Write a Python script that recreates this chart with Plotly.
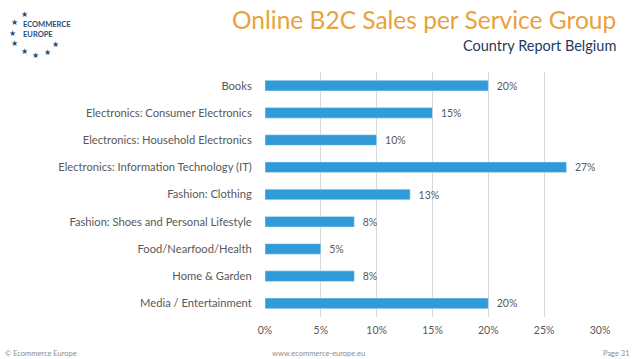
import plotly.graph_objects as go

categories = [
    "Books",
    "Electronics: Consumer Electronics",
    "Electronics: Household Electronics",
    "Electronics: Information Technology (IT)",
    "Fashion: Clothing",
    "Fashion: Shoes and Personal Lifestyle",
    "Food/Nearfood/Health",
    "Home & Garden",
    "Media / Entertainment",
]
shares = [0.20, 0.15, 0.10, 0.27, 0.13, 0.08, 0.05, 0.08, 0.20]
x_ticks = [0, 0.05, 0.10, 0.15, 0.20, 0.25, 0.30]

FONT = "Lato, 'Open Sans', sans-serif"
GRAY = "#595959"
W, H = 638, 359
ML, MR, MT, MB = 265, 38, 72, 42
PW, PH = W - ML - MR, H - MT - MB


def px(x):
    return (x - ML) / PW


def py(y):
    return (H - MB - y) / PH


fig = go.Figure(go.Bar(
    x=shares, y=categories, orientation="h",
    marker=dict(color="#2F9BD8"),
    texttemplate="\u00a0\u00a0%{x:.0%}", textposition="outside", constraintext="none",
    textfont=dict(family=FONT, size=10.5, color=GRAY),
    cliponaxis=False, width=0.39,
))

fig.update_layout(
    width=W, height=H,
    paper_bgcolor="white", plot_bgcolor="white",
    margin=dict(l=ML, r=MR, t=MT, b=MB),
    showlegend=False,
    font=dict(family=FONT, color=GRAY),
    xaxis=dict(range=[0, 0.30], tickvals=x_ticks, tickformat=".0%",
               showgrid=True, gridcolor="#D9D9D9", gridwidth=1,
               zeroline=False, showline=False, automargin=False,
               ticklabelstandoff=5,
               tickfont=dict(family=FONT, size=10.5, color=GRAY), ticks="", ticklen=0),
    yaxis=dict(autorange="reversed", showgrid=False, zeroline=False, automargin=False,
               ticks="outside", ticklen=10, tickcolor="rgba(0,0,0,0)",
               tickfont=dict(family=FONT, size=11.2, color=GRAY)),
)

annotations = []
# Titles
annotations.append(dict(text="Online B2C Sales per Service Group", xref="paper", yref="paper",
                        x=px(618), y=py(19), xanchor="right", yanchor="middle", showarrow=False,
                        font=dict(family=FONT, size=24.5, color="#E9A23B")))
annotations.append(dict(text="Country Report Belgium", xref="paper", yref="paper",
                        x=px(618), y=py(45), xanchor="right", yanchor="middle", showarrow=False,
                        font=dict(family=FONT, size=14.5, color="#1F3A5F")))

# Footer
for txt, xx, anc in [("© Ecommerce Europe", 3, "left"),
                     ("www.ecommerce-europe.eu", 318, "center"),
                     ("Page 31", 632, "right")]:
    annotations.append(dict(text=txt, xref="paper", yref="paper", x=px(xx), y=py(353.5),
                            xanchor=anc, yanchor="middle", showarrow=False,
                            font=dict(family=FONT, size=7.5, color="#8C8C8C")))

# Logo
star_px = [(24, 14), (15, 22), (12, 33), (15, 43), (24, 51), (35, 55), (47, 52), (55, 44)]
for (sx, sy) in star_px:
    annotations.append(dict(text="★", xref="paper", yref="paper", x=px(sx), y=py(sy),
                            xanchor="center", yanchor="middle", showarrow=False,
                            font=dict(size=8, color="#1F4E79")))
annotations.append(dict(text="<b>ECOMMERCE</b><br><b>EUROPE</b>", xref="paper", yref="paper",
                        x=px(21), y=py(30), xanchor="left", yanchor="middle", align="left",
                        showarrow=False,
                        font=dict(family=FONT, size=7.5, color="#1F4E79")))

fig.update_layout(annotations=annotations)

fig.write_html("out.html", config={"displayModeBar": False},
               post_script="document.body.style.margin='0';")
